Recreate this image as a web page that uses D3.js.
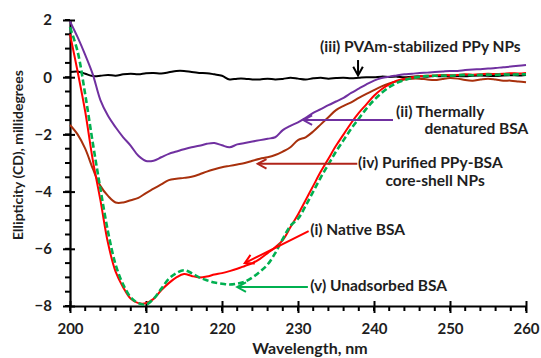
<!DOCTYPE html>
<html>
<head>
<meta charset="utf-8">
<script src="https://cdn.jsdelivr.net/npm/d3@7"></script>
<style>
  body { margin: 0; background: #fff; }
  svg { display: block; }
  text { font-family: Lato, "Open Sans", sans-serif; font-weight: bold; fill: #1e1e1e; }
</style>
</head>
<body>
<svg width="541" height="358"></svg>
<script>
// wavelength, nm (1 nm steps)
var wavelength = d3.range(200, 261);

// (i) Native BSA
var nativeBSA = [1.5, 0.2, -1.2, -2.9, -4.3, -5.8, -6.8, -7.35, -7.75, -7.9,
  -7.9, -7.75, -7.45, -7.2, -7.0, -6.88, -6.95, -7.0, -6.97, -6.9,
  -6.85, -6.78, -6.7, -6.6, -6.5, -6.35, -6.15, -5.95, -5.7, -5.25,
  -4.8, -4.3, -3.8, -3.3, -2.85, -2.4, -2.0, -1.6, -1.25, -0.95,
  -0.65, -0.42, -0.25, -0.12, -0.05, 0.0, 0.03, 0.05, 0.06, 0.08,
  0.07, 0.08, 0.1, 0.09, 0.1, 0.12, 0.11, 0.12, 0.14, 0.13, 0.15];

// (ii) Thermally denatured BSA
var thermalBSA = [1.95, 1.4, 0.78, 0.1, -0.8, -1.35, -1.75, -2.1, -2.4, -2.75,
  -2.93, -2.92, -2.8, -2.68, -2.6, -2.52, -2.45, -2.4, -2.33, -2.3,
  -2.38, -2.45, -2.35, -2.3, -2.25, -2.2, -2.15, -2.1, -1.85, -1.7,
  -1.58, -1.42, -1.25, -1.12, -0.98, -0.85, -0.72, -0.55, -0.4, -0.25,
  -0.12, -0.03, 0.02, 0.06, 0.1, 0.12, 0.15, 0.16, 0.18, 0.2,
  0.22, 0.22, 0.25, 0.27, 0.28, 0.3, 0.32, 0.35, 0.37, 0.4, 0.43];

// (iii) PVAm-stabilized PPy NPs
var pvamPPy = [0.18, 0.2, 0.12, 0.04, 0.05, 0.08, 0.05, 0.1, 0.12, 0.1,
  0.14, 0.15, 0.13, 0.17, 0.22, 0.22, 0.18, 0.15, 0.14, 0.1,
  0.05, -0.08, -0.05, -0.05, -0.08, -0.08, -0.05, -0.08, -0.06, -0.02,
  -0.05, -0.08, -0.04, -0.02, -0.05, -0.03, -0.02, -0.04, -0.02, 0.0,
  0.0, 0.02, 0.01, 0.02, 0.0, 0.02, 0.03, 0.02, 0.04, 0.03,
  0.05, 0.04, 0.03, 0.05, 0.06, 0.05, 0.04, 0.06, 0.07, 0.06, 0.08];

// (iv) Purified PPy-BSA core-shell NPs
var purifiedNPs = [-1.67, -2.0, -2.5, -3.2, -3.8, -4.15, -4.38, -4.38, -4.3, -4.22,
  -4.05, -3.9, -3.75, -3.6, -3.55, -3.52, -3.48, -3.4, -3.3, -3.22,
  -3.15, -3.1, -3.05, -3.0, -2.92, -2.85, -2.8, -2.72, -2.6, -2.45,
  -2.2, -2.1, -1.9, -1.65, -1.4, -1.15, -1.0, -0.88, -0.72, -0.58,
  -0.45, -0.32, -0.22, -0.14, -0.08, -0.05, -0.05, -0.08, -0.1, -0.06,
  -0.03, -0.05, -0.1, -0.12, -0.08, -0.05, -0.08, -0.12, -0.12, -0.15, -0.18];

// (v) Unadsorbed BSA
var unadsorbedBSA = [1.75, 0.9, -0.6, -2.3, -3.9, -5.4, -6.55, -7.25, -7.7, -7.9,
  -7.95, -7.75, -7.4, -7.05, -6.85, -6.75, -6.85, -7.0, -7.1, -7.18,
  -7.22, -7.25, -7.22, -7.15, -7.0, -6.8, -6.55, -6.15, -5.65, -5.2,
  -4.95, -4.5, -4.0, -3.5, -3.05, -2.6, -2.2, -1.8, -1.45, -1.1,
  -0.8, -0.55, -0.35, -0.2, -0.1, -0.03, 0.02, 0.04, 0.05, 0.06,
  0.05, 0.07, 0.08, 0.07, 0.08, 0.09, 0.08, 0.1, 0.09, 0.1, 0.1];

var xTicks = [200, 210, 220, 230, 240, 250, 260];
var yTicks = [-8, -6, -4, -2, 0, 2];

var svg = d3.select("svg"),
    margin = {top: 20, right: 15, bottom: 52, left: 70},
    width = +svg.attr("width") - margin.left - margin.right,
    height = +svg.attr("height") - margin.top - margin.bottom;

var g = svg.append("g")
    .attr("transform", "translate(" + margin.left + "," + margin.top + ")");

var x = d3.scaleLinear().domain([200, 260]).range([0, width]);
var y = d3.scaleLinear().domain([-8, 2]).range([height, 0]);

// minor ticks
g.append("g").selectAll("line")
    .data(d3.range(200, 261, 2))
    .enter().append("line")
    .attr("x1", function (d) { return x(d); })
    .attr("x2", function (d) { return x(d); })
    .attr("y1", height)
    .attr("y2", height + 5)
    .attr("stroke", "#000")
    .attr("stroke-width", 2);

g.append("g").selectAll("line")
    .data(d3.range(-8, 2.01, 0.5))
    .enter().append("line")
    .attr("x1", -5)
    .attr("x2", 0)
    .attr("y1", function (d) { return y(d); })
    .attr("y2", function (d) { return y(d); })
    .attr("stroke", "#000")
    .attr("stroke-width", 2);

var xAxis = g.append("g")
    .attr("transform", "translate(0," + height + ")")
    .call(d3.axisBottom(x).tickValues(xTicks).tickSizeInner(7).tickSizeOuter(0).tickPadding(10));
xAxis.selectAll(".tick line").attr("y1", -5);

var yAxis = g.append("g")
    .call(d3.axisLeft(y).tickValues(yTicks).tickSizeInner(7).tickSizeOuter(0).tickPadding(11));
yAxis.selectAll(".tick line").attr("x1", 5);

[xAxis, yAxis].forEach(function (a) {
    a.select(".domain").attr("stroke-width", 2.2);
    a.selectAll(".tick line").attr("stroke-width", 2);
    a.selectAll("text").style("font-size", "15px").style("fill", "#1e1e1e");
});

// axis titles
svg.append("text")
    .attr("x", margin.left + width / 2 + 12)
    .attr("y", 354)
    .attr("text-anchor", "middle")
    .style("font-size", "16px")
    .text("Wavelength, nm");

svg.append("text")
    .attr("transform", "translate(23,155) rotate(-90)")
    .attr("text-anchor", "middle")
    .style("font-size", "14px")
    .text("Ellipticity (CD), millidegrees");

// curves
var series = [
    {values: pvamPPy, color: "#000000", width: 2, dash: null},
    {values: thermalBSA, color: "#7030a0", width: 2, dash: null},
    {values: purifiedNPs, color: "#a8300c", width: 2, dash: null},
    {values: unadsorbedBSA, color: "#00b050", width: 2.6, dash: "6,3"},
    {values: nativeBSA, color: "#ff0000", width: 2, dash: null}
];

var line = d3.line()
    .x(function (d, i) { return x(wavelength[i]); })
    .y(function (d) { return y(d); })
    .curve(d3.curveCatmullRom);

// draw native under the dashed green so the dashes show over it
var order = [0, 1, 2, 4, 3];
order.forEach(function (k) {
    var s = series[k];
    g.append("path")
        .datum(s.values)
        .attr("fill", "none")
        .attr("stroke", s.color)
        .attr("stroke-width", s.width)
        .attr("stroke-dasharray", s.dash)
        .attr("d", line);
});

// annotations: arrows in data coordinates
function arrow(x1, y1, x2, y2, color) {
    var px1 = x(x1), py1 = y(y1), px2 = x(x2), py2 = y(y2);
    var a = Math.atan2(py2 - py1, px2 - px1), len = 10, spread = 0.5;
    g.append("line")
        .attr("x1", px1).attr("y1", py1).attr("x2", px2).attr("y2", py2)
        .attr("stroke", color).attr("stroke-width", 2);
    g.append("path")
        .attr("d", "M" + (px2 - len * Math.cos(a - spread)) + "," + (py2 - len * Math.sin(a - spread)) +
            "L" + px2 + "," + py2 +
            "L" + (px2 - len * Math.cos(a + spread)) + "," + (py2 - len * Math.sin(a + spread)))
        .attr("fill", "none").attr("stroke", color).attr("stroke-width", 2);
}

function label(xv, yv, txt, anchor) {
    g.append("text")
        .attr("x", x(xv))
        .attr("y", y(yv))
        .attr("dy", "0.35em")
        .attr("text-anchor", anchor || "start")
        .style("font-size", "15.5px")
        .text(txt);
}

arrow(237.9, 0.6, 237.9, 0.06, "#000000");
label(232.9, 1.06, "(iii) PVAm-stabilized PPy NPs");

arrow(242.5, -1.5, 230.7, -1.5, "#7030a0");
label(242.9, -1.2, "(ii) Thermally");
label(260.3, -1.8, "denatured BSA", "end");

arrow(237.8, -3.03, 224.7, -3.03, "#b0241a");
label(237.9, -3.0, "(iv) Purified PPy-BSA");
label(241.5, -3.6, "core-shell NPs");

arrow(231.4, -5.38, 223.0, -6.5, "#ff0000");
label(231.6, -5.34, "(i) Native BSA");

arrow(231.3, -7.34, 222.0, -7.34, "#00b050");
label(231.6, -7.3, "(v) Unadsorbed BSA");
</script>
</body>
</html>
